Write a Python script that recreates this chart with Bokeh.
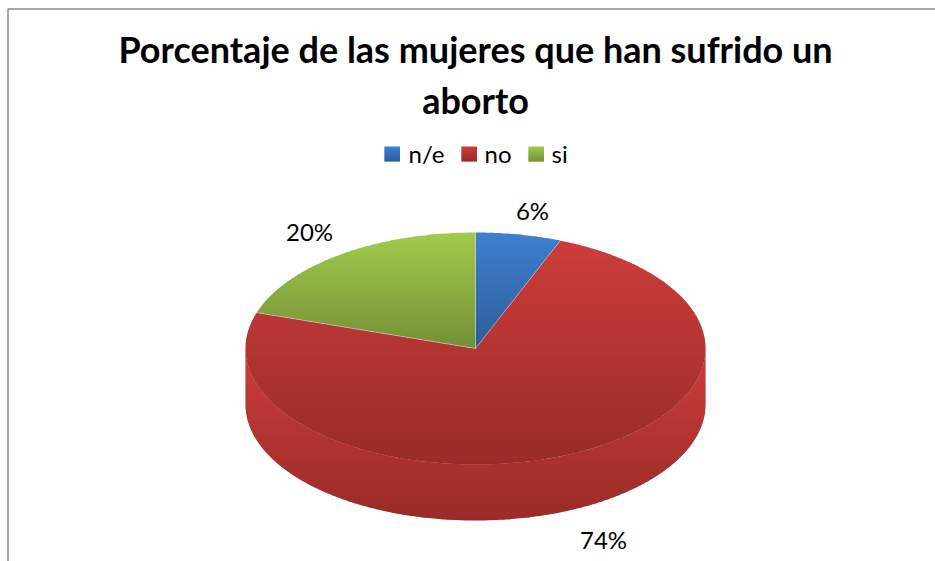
import math
from bokeh.plotting import figure
from bokeh.embed import file_html
from bokeh.resources import INLINE
from bokeh.core.properties import value

title_lines = ["Porcentaje de las mujeres que han sufrido un", "aborto"]
categories = ["n/e", "no", "si"]
values = [6, 74, 20]
labels = ["6%", "74%", "20%"]
top_colors = ["#3f80cf", "#cc3d3b", "#a2cb4b"]
bottom_colors = ["#2c5d97", "#992b28", "#748f37"]

W, H = 935, 561
CX, CY, RX, RY, DEPTH = 475.0, 348.0, 230.0, 116.0, 56.0

p = figure(width=W, height=H, x_range=(0, W), y_range=(H, 0),
           output_backend="svg", toolbar_location=None, min_border=0,
           x_axis_location=None, y_axis_location=None, outline_line_color=None)
p.grid.visible = False


def hexrgb(c):
    return [int(c[i:i + 2], 16) for i in (1, 3, 5)]


def mix(a, b, f):
    ca, cb = hexrgb(a), hexrgb(b)
    return "#%02x%02x%02x" % tuple(round(x + (y - x) * f) for x, y in zip(ca, cb))


def clip(poly, y, keep_below):
    out = []
    n = len(poly)
    for i in range(n):
        a, b = poly[i], poly[(i + 1) % n]
        ina = a[1] >= y if keep_below else a[1] <= y
        inb = b[1] >= y if keep_below else b[1] <= y
        if ina:
            out.append(a)
        if ina != inb:
            f = (y - a[1]) / (b[1] - a[1])
            out.append((a[0] + (b[0] - a[0]) * f, y))
    return out


def gradient_fill(poly, c0, c1, step=2.0):
    ys = [q[1] for q in poly]
    y0, y1 = min(ys), max(ys)
    xs_all, ys_all, cols = [], [], []
    y = y0
    while y < y1:
        band = clip(clip(poly, y, True), min(y + step + 0.7, y1), False)
        if len(band) > 2:
            xs_all.append([q[0] for q in band])
            ys_all.append([q[1] for q in band])
            cols.append(mix(c0, c1, (y + step / 2 - y0) / (y1 - y0)))
        y += step
    p.patches(xs_all, ys_all, fill_color=cols, line_color=None)


def pt(t, dy=0.0):
    return (CX + RX * math.sin(t), CY - RY * math.cos(t) + dy)


def arc(t0, t1, dy=0.0):
    n = max(2, int(abs(t1 - t0) * 80))
    return [pt(t0 + (t1 - t0) * i / n, dy) for i in range(n + 1)]


total = sum(values)
angles = [0.0]
for v in values:
    angles.append(angles[-1] + 2 * math.pi * v / total)

# side walls: only the front half (pi/2 .. 3pi/2) of each slice shows
for i in range(len(values)):
    a = max(angles[i], math.pi / 2)
    b = min(angles[i + 1], 3 * math.pi / 2)
    if b > a:
        wall = arc(a, b) + arc(b, a, DEPTH)
        gradient_fill(wall, top_colors[i], bottom_colors[i])

# top faces
for i in range(len(values)):
    poly = [(CX, CY)] + arc(angles[i], angles[i + 1])
    gradient_fill(poly, top_colors[i], bottom_colors[i])

# thin pale separators between the slices
for i in range(len(values)):
    e = pt(angles[i])
    p.line([CX, e[0]], [CY, e[1]], line_color="#e8e8e8", line_alpha=0.45, line_width=1)

FONT = value("Lato")

# title
p.text([475, 475], [48, 99], text=title_lines, text_font=FONT, text_font_size="36px",
       text_font_style="bold", text_color="#000000", text_align="center", text_baseline="middle")

# legend
swatch_x = [384, 461, 528]
text_x = [408, 484, 551]
for i, c in enumerate(categories):
    sw = [(swatch_x[i], 146), (swatch_x[i] + 15.5, 146), (swatch_x[i] + 15.5, 161), (swatch_x[i], 161)]
    gradient_fill(sw, top_colors[i], bottom_colors[i], step=1.0)
p.text(text_x, [153] * 3, text=categories, text_font=FONT, text_font_size="24px",
       text_color="#000000", text_align="left", text_baseline="middle")

# data labels
p.text([532, 603, 309], [210, 539, 231], text=labels, text_font=FONT, text_font_size="24px",
       text_color="#000000", text_align="center", text_baseline="middle")

# chart frame
p.line([7.5, 7.5, W], [H, 8.5, 8.5], line_color="#8a8a8a", line_width=1.5)

open("out.html", "w").write(file_html(p, INLINE))
